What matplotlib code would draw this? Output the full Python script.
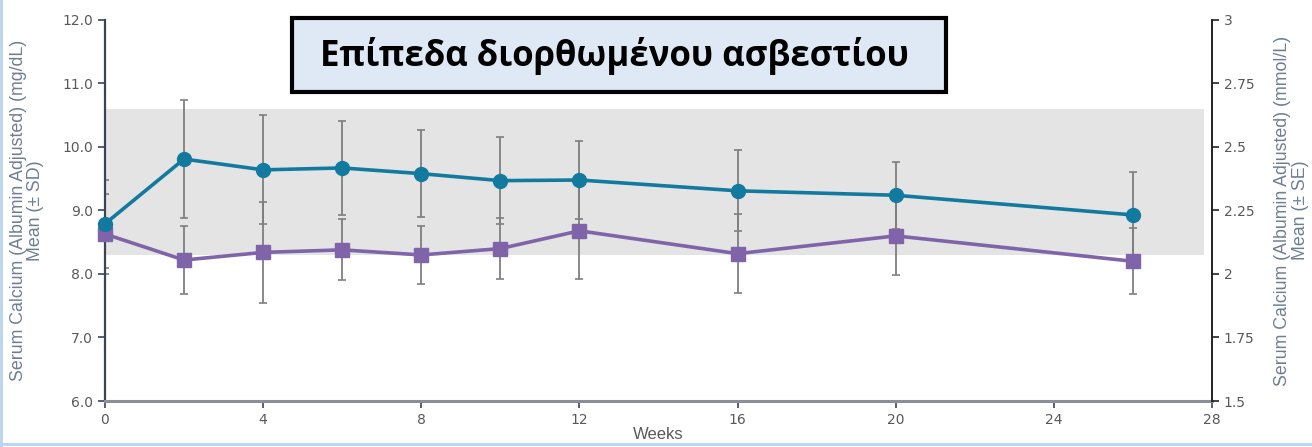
import matplotlib
matplotlib.use("Agg")
import matplotlib.pyplot as plt
from matplotlib.patches import Rectangle

# Weeks of measurement
weeks = [0, 2, 4, 6, 8, 10, 12, 16, 20, 26]

# Albumin-adjusted serum calcium (mg/dL), mean and SD
active_mean = [8.79, 9.81, 9.64, 9.67, 9.58, 9.47, 9.48, 9.31, 9.24, 8.93]
active_sd = [0.69, 0.93, 0.86, 0.74, 0.69, 0.69, 0.61, 0.64, 0.53, 0.68]
placebo_mean = [8.63, 8.22, 8.34, 8.38, 8.30, 8.40, 8.68, 8.32, 8.60, 8.20]
placebo_sd = [0.63, 0.54, 0.79, 0.48, 0.46, 0.48, 0.76, 0.62, 0.62, 0.52]

# Normal range band (mg/dL)
normal_low, normal_high = 8.3, 10.6

x_ticks = [0, 4, 8, 12, 16, 20, 24, 28]
y_ticks = [6.0, 7.0, 8.0, 9.0, 10.0, 11.0, 12.0]
y2_ticks = [1.5, 1.75, 2.0, 2.25, 2.5, 2.75, 3.0]
y2_labels = ["1.5", "1.75", "2", "2.25", "2.5", "2.75", "3"]

title = "Επίπεδα διορθωμένου ασβεστίου"

BLUE = "#137a9f"
PURPLE = "#8064aa"
ERR = "#7f7f7f"
TICK_TXT = "#595959"
LABEL_TXT = "#6e7f91"
SPINE = "#3b4358"
LABEL_FONT = ["Liberation Sans", "DejaVu Sans"]

fig = plt.figure(figsize=(13.12, 4.47), dpi=100)
fig.patch.set_facecolor("white")
ax = fig.add_axes([0.0800, 0.1029, 0.8438, 0.8524])

ax.axhspan(normal_low, normal_high, xmin=0, xmax=27.8 / 28, color="#e4e4e4", zorder=0, lw=0)

ax.errorbar(weeks, active_mean, yerr=active_sd, fmt="none", ecolor=ERR, elinewidth=1.3,
            capsize=3, capthick=1.2, zorder=2)
ax.errorbar(weeks, placebo_mean, yerr=placebo_sd, fmt="none", ecolor=ERR, elinewidth=1.3,
            capsize=3, capthick=1.2, zorder=2)
ax.plot(weeks, placebo_mean, color=PURPLE, lw=2.6, marker="s", ms=10, zorder=3, clip_on=False)
ax.plot(weeks, active_mean, color=BLUE, lw=2.6, marker="o", ms=10, zorder=4, clip_on=False)

ax.set_xlim(0, 28)
ax.set_ylim(6.0, 12.0)
ax.set_xticks(x_ticks)
ax.set_yticks(y_ticks)
ax.set_yticklabels([f"{v:.1f}" for v in y_ticks])
ax.tick_params(axis="both", colors=SPINE, labelcolor=TICK_TXT, labelsize=10, length=5, width=1.2)

for s in ("top", "right"):
    ax.spines[s].set_visible(False)
ax.spines["left"].set_color(SPINE)
ax.spines["left"].set_linewidth(1.6)
ax.spines["bottom"].set_color("#8a8f99")
ax.spines["bottom"].set_linewidth(2.2)

ax.set_xlabel("Weeks", fontsize=12, color=TICK_TXT, labelpad=0, family=LABEL_FONT)
ax.set_ylabel("Serum Calcium (Albumin Adjusted) (mg/dL)\nMean (± SD)", fontsize=12.8,
              color=LABEL_TXT, labelpad=13, linespacing=1.05, family=LABEL_FONT)

ax2 = ax.twinx()
ax2.set_ylim(1.5, 3.0)
ax2.set_yticks(y2_ticks)
ax2.set_yticklabels(y2_labels)
ax2.tick_params(axis="y", colors="#222222", labelcolor=TICK_TXT, labelsize=10, length=5, width=1.2)
for s in ("top", "left", "bottom"):
    ax2.spines[s].set_visible(False)
ax2.spines["right"].set_color("#222222")
ax2.spines["right"].set_linewidth(1.4)
ax2.set_ylabel("Serum Calcium (Albumin Adjusted) (mmol/L)\nMean (± SE)", fontsize=12.8,
               color=LABEL_TXT, labelpad=14, linespacing=1.05, rotation=90, family=LABEL_FONT)

# Title box
W, H = 1312, 447
box = Rectangle((292 / W, 1 - 92 / H), (946 - 292) / W, (92 - 18) / H,
                transform=fig.transFigure, facecolor="#dee9f5", edgecolor="black",
                lw=3, zorder=5)
fig.patches.append(box)
fig.text(614 / W, 1 - 56 / H, title, fontsize=25, fontweight="bold",
         family=["Open Sans", "DejaVu Sans"], ha="center", va="center", color="black", zorder=6)

# Light blue edge strips (left and bottom)
fig.patches.append(Rectangle((0, 0), 2.5 / W, 1, transform=fig.transFigure,
                             facecolor="#bcd6ee", lw=0, zorder=10))
fig.patches.append(Rectangle((0, 1 / H), 1, 3.5 / H, transform=fig.transFigure,
                             facecolor="#bcd6ee", lw=0, zorder=10))

fig.savefig("out.png", dpi=100)
